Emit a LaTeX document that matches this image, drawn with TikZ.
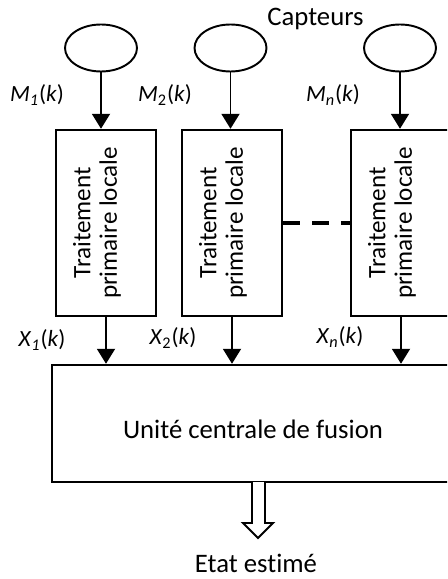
\documentclass[tikz,border=0pt]{standalone}
\usepackage{fontspec}
\setmainfont{Carlito}[Ligatures=NoCommon]
\usetikzlibrary{shapes.geometric,arrows.meta}

\tikzset{
	capteur/.style={draw,ellipse,line width=1.1pt,minimum width=1.44cm,minimum height=0.94cm,inner sep=0pt},
	bloc/.style={draw,line width=1.4pt,minimum width=2cm,minimum height=3.72cm,inner sep=0pt},
	bloctxt/.style={rotate=90,align=center,font=\fontsize{14.3}{15.2}\selectfont},
	signal/.style={font=\fontsize{13.2}{16}\selectfont},
	fleche/.style={-{Triangle[length=0.3cm,width=0.36cm]},line width=1.1pt},
}

\begin{document}
\begin{tikzpicture}[font=\fontsize{15.2}{18}\selectfont]
	\clip (0,0) rectangle (8.94,-11.58);
	
	%capteurs
	\node[capteur] (c1) at (2.02,-0.96) {};
	\node[capteur] (c2) at (4.61,-0.96) {};
	\node[capteur] (c3) at (8.00,-0.96) {};
	\node (capt) at (6.31,-0.37) {Capteurs};
	
	%traitements locaux
	\node[bloc] (b1) at (2.12,-4.46) {};
	\node[bloc] (b2) at (4.64,-4.46) {};
	\node[bloc] (b3) at (8.02,-4.46) {};
	\node[bloctxt] (t1) at ([xshift=-0.18cm]b1.center) {Traitement\\primaire locale};
	\node[bloctxt] (t2) at ([xshift=-0.18cm]b2.center) {Traitement\\primaire locale};
	\node[bloctxt] (t3) at ([xshift=-0.18cm]b3.center) {Traitement\\primaire locale};
	\draw[line width=2pt,dash pattern=on 0.34cm off 0.24cm] (b2.east) -- (b3.west);
	
	\draw[fleche] (c1.south) -- (c1.south |- b1.north);
	\draw[fleche] (c2.south) -- (c2.south |- b2.north);
	\draw[fleche] (c3.south) -- (c3.south |- b3.north);
	\node[signal] (m1) at (0.74,-1.90) {\textit{M}\textsubscript{\textit{1}}(\textit{k})};
	\node[signal] (m2) at (3.30,-1.90) {\textit{M}\textsubscript{2}(\textit{k})};
	\node[signal] (mn) at (6.66,-1.90) {\textit{M}\textsubscript{\textit{n}}(\textit{k})};
	
	%unite centrale
	\node[draw,line width=1.4pt,minimum width=8.04cm,minimum height=2.34cm] (fus) at (5.06,-8.47) {};
	\node (fustxt) at (5.06,-8.58) {Unité centrale de fusion};
	
	\draw[fleche] (b1.south) -- (b1.south |- fus.north);
	\draw[fleche] (b2.south) -- (b2.south |- fus.north);
	\draw[fleche] (b3.south) -- (b3.south |- fus.north);
	\node[signal] (x1) at (0.84,-6.80) {\textit{X}\textsubscript{\textit{1}}(\textit{k})};
	\node[signal] (x2) at (3.46,-6.76) {\textit{X}\textsubscript{2}(\textit{k})};
	\node[signal] (xn) at (6.80,-6.74) {\textit{X}\textsubscript{\textit{n}}(\textit{k})};
	
	%sortie
	\coordinate (sortie) at (5.17,-9.64);
	\draw[line width=1.1pt,fill=white] (sortie) ++(-0.13,0) -- ++(0,-0.82) -- ++(-0.18,0) -- ++(0.30,-0.30)
		-- ++(0.30,0.30) -- ++(-0.16,0) -- ++(0,0.82);
	\node (etat) at (5.12,-11.26) {Etat estimé};
\end{tikzpicture}
\end{document}
